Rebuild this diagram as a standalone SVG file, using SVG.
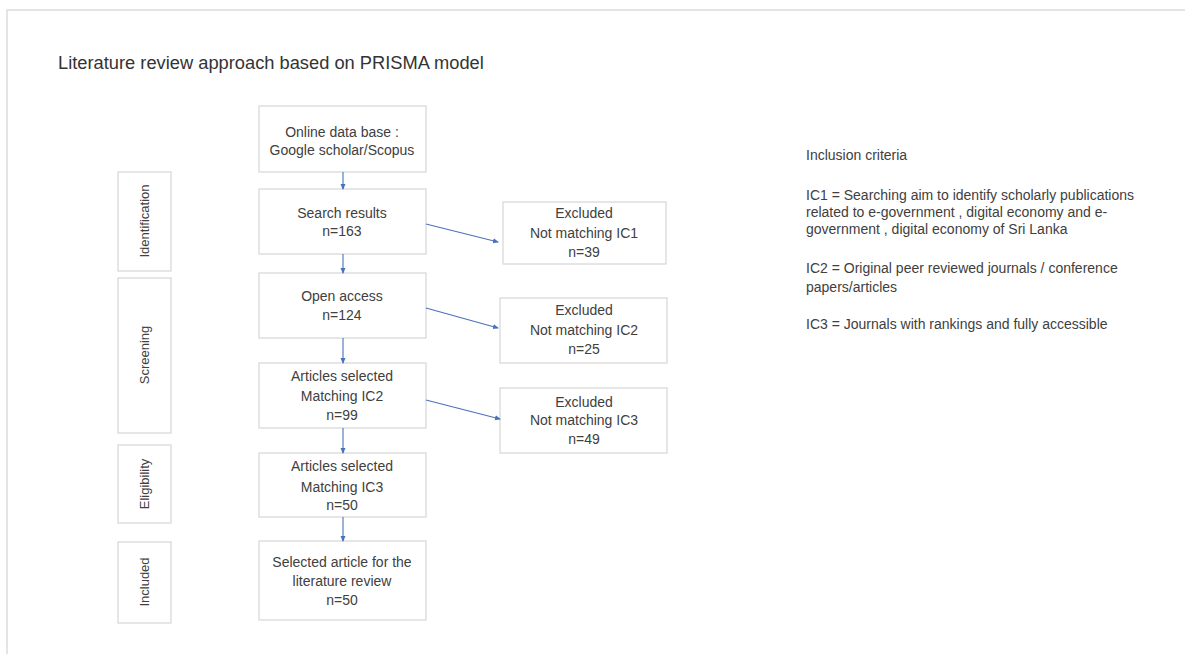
<svg xmlns="http://www.w3.org/2000/svg" width="1185" height="654" viewBox="0 0 1185 654">
<defs>
<marker id="ah" markerWidth="6" markerHeight="6" refX="5" refY="3" orient="auto" markerUnits="userSpaceOnUse">
<path d="M0,0.5 L6,3 L0,5.5 Z" fill="#4a72b8"/>
</marker>
<style>
.box{fill:#ffffff;stroke:#d6d6d6;stroke-width:1.2}
.t{font-family:"Liberation Sans",Arial,sans-serif;font-size:14px;fill:#404040;text-anchor:middle}
.v{font-family:"Liberation Sans",Arial,sans-serif;font-size:13px;fill:#404040;text-anchor:middle}
.r{font-family:"Liberation Sans",Arial,sans-serif;font-size:14px;fill:#404040}
.c{stroke:#4a72b8;stroke-width:1.1;fill:none;marker-end:url(#ah)}
</style>
</defs>
<rect x="0" y="0" width="1185" height="654" fill="#ffffff"/>
<path d="M7,654 L7,10 L1185,10" fill="none" stroke="#dcdcdc" stroke-width="1.5"/>
<text x="58" y="69" style="font-family:'Liberation Sans',Arial,sans-serif;font-size:18.3px;fill:#333333">Literature review approach based on PRISMA model</text>

<g id="phase-identification"><rect class="box" x="118" y="172" width="53" height="99"/><text class="v" transform="translate(149,221) rotate(-90)">Identification</text></g>
<g id="phase-screening"><rect class="box" x="118" y="278" width="53" height="155"/><text class="v" transform="translate(149,355) rotate(-90)">Screening</text></g>
<g id="phase-eligibility"><rect class="box" x="118" y="445" width="53" height="78"/><text class="v" transform="translate(149,484) rotate(-90)">Eligibility</text></g>
<g id="phase-included"><rect class="box" x="118" y="542" width="53" height="81"/><text class="v" transform="translate(149,582) rotate(-90)">Included</text></g>

<g id="n-database"><rect class="box" x="259" y="106" width="167" height="66"/><text class="t" x="342" y="137">Online data base :</text><text class="t" x="342" y="155">Google scholar/Scopus</text></g>
<g id="n-search"><rect class="box" x="259" y="189" width="167" height="65"/><text class="t" x="342" y="218">Search results</text><text class="t" x="342" y="236">n=163</text></g>
<g id="n-open"><rect class="box" x="259" y="273" width="167" height="65"/><text class="t" x="342" y="301">Open access</text><text class="t" x="342" y="320">n=124</text></g>
<g id="n-ic2"><rect class="box" x="259" y="363" width="167" height="65"/><text class="t" x="342" y="381">Articles selected</text><text class="t" x="342" y="401">Matching IC2</text><text class="t" x="342" y="420">n=99</text></g>
<g id="n-ic3"><rect class="box" x="259" y="453" width="167" height="64"/><text class="t" x="342" y="471">Articles selected</text><text class="t" x="342" y="492">Matching IC3</text><text class="t" x="342" y="510">n=50</text></g>
<g id="n-selected"><rect class="box" x="259" y="541" width="167" height="79"/><text class="t" x="342" y="567">Selected article for the</text><text class="t" x="342" y="586">literature review</text><text class="t" x="342" y="605">n=50</text></g>

<g id="x-ic1"><rect class="box" x="503" y="202" width="163" height="62"/><text class="t" x="584" y="218">Excluded</text><text class="t" x="584" y="238">Not matching IC1</text><text class="t" x="584" y="257">n=39</text></g>
<g id="x-ic2"><rect class="box" x="500" y="298" width="167" height="65"/><text class="t" x="584" y="315">Excluded</text><text class="t" x="584" y="335">Not matching IC2</text><text class="t" x="584" y="354">n=25</text></g>
<g id="x-ic3"><rect class="box" x="500" y="388" width="167" height="65"/><text class="t" x="584" y="407">Excluded</text><text class="t" x="584" y="425">Not matching IC3</text><text class="t" x="584" y="444">n=49</text></g>

<g id="connectors">
<line class="c" x1="343" y1="172" x2="343" y2="189"/>
<line class="c" x1="343" y1="254" x2="343" y2="273"/>
<line class="c" x1="343" y1="338" x2="343" y2="363"/>
<line class="c" x1="343" y1="428" x2="343" y2="453"/>
<line class="c" x1="343" y1="517" x2="343" y2="541"/>
<line class="c" x1="426" y1="224" x2="498" y2="242"/>
<line class="c" x1="426" y1="308" x2="498" y2="328"/>
<line class="c" x1="426" y1="400" x2="500" y2="419"/>
</g>

<g id="criteria">
<text class="r" x="806" y="160">Inclusion criteria</text>
<text class="r" x="806" y="200">IC1 = Searching aim to identify scholarly publications</text>
<text class="r" x="806" y="217">related to e-government , digital economy and e-</text>
<text class="r" x="806" y="234">government , digital economy of Sri Lanka</text>
<text class="r" x="806" y="273">IC2 = Original peer reviewed journals / conference</text>
<text class="r" x="806" y="292">papers/articles</text>
<text class="r" x="806" y="329">IC3 = Journals with rankings and fully accessible</text>
</g>
</svg>
